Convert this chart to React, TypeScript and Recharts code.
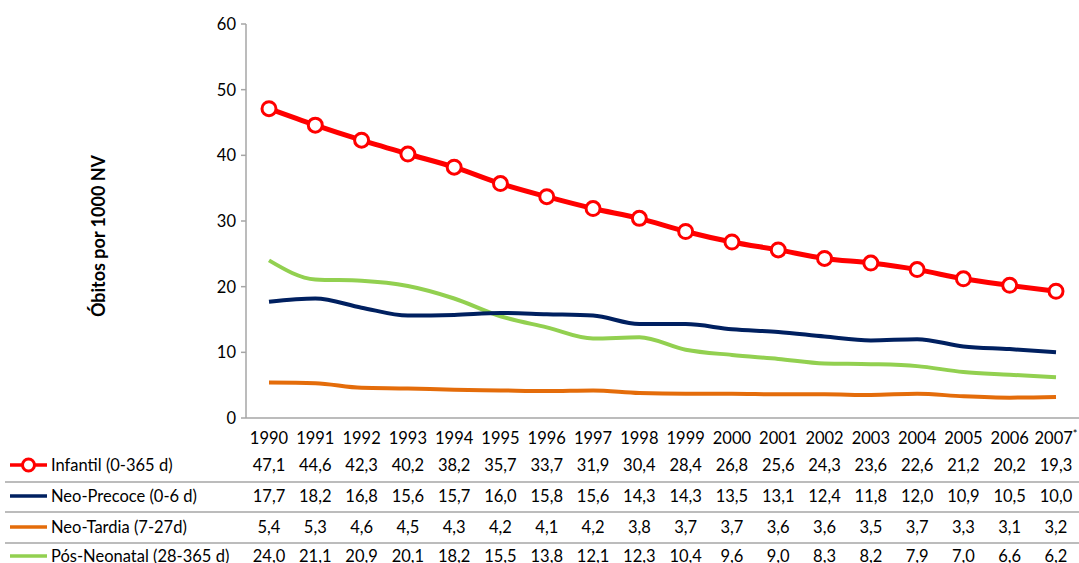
import { LineChart, Line, XAxis, YAxis } from "recharts";

const years = ["1990", "1991", "1992", "1993", "1994", "1995", "1996", "1997", "1998", "1999", "2000", "2001", "2002", "2003", "2004", "2005", "2006", "2007"];
const infantil = [47.1, 44.6, 42.3, 40.2, 38.2, 35.7, 33.7, 31.9, 30.4, 28.4, 26.8, 25.6, 24.3, 23.6, 22.6, 21.2, 20.2, 19.3];
const neoPrecoce = [17.7, 18.2, 16.8, 15.6, 15.7, 16.0, 15.8, 15.6, 14.3, 14.3, 13.5, 13.1, 12.4, 11.8, 12.0, 10.9, 10.5, 10.0];
const neoTardia = [5.4, 5.3, 4.6, 4.5, 4.3, 4.2, 4.1, 4.2, 3.8, 3.7, 3.7, 3.6, 3.6, 3.5, 3.7, 3.3, 3.1, 3.2];
const posNeonatal = [24.0, 21.1, 20.9, 20.1, 18.2, 15.5, 13.8, 12.1, 12.3, 10.4, 9.6, 9.0, 8.3, 8.2, 7.9, 7.0, 6.6, 6.2];
const yTicks = [0, 10, 20, 30, 40, 50, 60];

const FONT = "Lato, 'DejaVu Sans', sans-serif";
const GRID = "#a6a6a6";

const series = [
  { key: "infantil", name: "Infantil (0-365 d)", color: "#ff0000", values: infantil },
  { key: "neoPrecoce", name: "Neo-Precoce  (0-6 d)", color: "#002060", values: neoPrecoce },
  { key: "neoTardia", name: "Neo-Tardia (7-27d)", color: "#e46c0a", values: neoTardia },
  { key: "posNeonatal", name: "Pós-Neonatal (28-365 d)", color: "#92d050", values: posNeonatal },
];

const data = years.map((year, i) => ({
  year,
  infantil: infantil[i],
  neoPrecoce: neoPrecoce[i],
  neoTardia: neoTardia[i],
  posNeonatal: posNeonatal[i],
}));

const fmt = (v: number) => v.toFixed(1).replace(".", ",");

const rowY = [465, 496, 527, 556];

function TableTick(props: any) {
  const { x, y, payload } = props;
  const i = payload.index;
  const isLast = i === years.length - 1;
  return (
    <g fontFamily={FONT} fontSize={16.5} fill="#000">
      <text x={x} y={y + 18} textAnchor="middle" dominantBaseline="central">
        {payload.value}
        {isLast && (
          <tspan fontSize={11} dy={-5}>
            *
          </tspan>
        )}
      </text>
      {series.map((s, r) => (
        <text key={s.key} x={x} y={rowY[r]} textAnchor="middle" dominantBaseline="central">
          {fmt(s.values[i])}
        </text>
      ))}
    </g>
  );
}

function YTitle() {
  return (
    <text
      transform="translate(98,236) rotate(-90)"
      textAnchor="middle"
      dominantBaseline="central"
      fontFamily={FONT}
      fontSize={18}
      fontWeight="bold"
      fill="#000"
    >
      Óbitos por 1000 NV
    </text>
  );
}

export default function App() {
  return (
    <div style={{ position: "absolute", left: 0, top: 0, width: 1079, height: 563, background: "#fff", overflow: "hidden" }}>
      <LineChart width={1079} height={563} data={data} margin={{ top: 24, right: 0, bottom: 0, left: 0 }}>
        <XAxis
          dataKey="year"
          interval={0}
          height={145}
          padding={{ left: 23, right: 23 }}
          tickLine={false}
          tickSize={0}
          axisLine={{ stroke: GRID, strokeWidth: 1.5 }}
          tick={<TableTick />}
        />
        <YAxis
          width={246}
          domain={[0, 60]}
          ticks={yTicks}
          interval={0}
          tickSize={5}
          tickMargin={5}
          axisLine={{ stroke: GRID, strokeWidth: 1.5 }}
          tickLine={{ stroke: GRID, strokeWidth: 1.5 }}
          tick={{ fill: "#000", fontSize: 16.5, fontFamily: FONT }}
          label={<YTitle />}
        />
        <Line
          type="monotone"
          dataKey="neoTardia"
          stroke="#e46c0a"
          strokeWidth={4}
          dot={false}
          isAnimationActive={false}
        />
        <Line
          type="monotone"
          dataKey="posNeonatal"
          stroke="#92d050"
          strokeWidth={4}
          dot={false}
          isAnimationActive={false}
        />
        <Line
          type="monotone"
          dataKey="neoPrecoce"
          stroke="#002060"
          strokeWidth={4}
          dot={false}
          isAnimationActive={false}
        />
        <Line
          type="monotone"
          dataKey="infantil"
          stroke="#ff0000"
          strokeWidth={5}
          dot={{ r: 7, fill: "#fff", stroke: "#ff0000", strokeWidth: 3 }}
          isAnimationActive={false}
        />
      </LineChart>
      <svg width={1079} height={563} style={{ position: "absolute", left: 0, top: 0, pointerEvents: "none" }}>
        {[482, 512, 543].map((y) => (
          <line key={y} x1={5} x2={1079} y1={y} y2={y} stroke={GRID} strokeWidth={1.5} />
        ))}
        {series.map((s, r) => (
          <g key={s.key}>
            <line x1={10} x2={47} y1={rowY[r]} y2={rowY[r]} stroke={s.color} strokeWidth={3.5} />
            {r === 0 && <circle cx={28.5} cy={rowY[r]} r={6} fill="#fff" stroke={s.color} strokeWidth={3} />}
            <text x={51} y={rowY[r]} dominantBaseline="central" fontFamily={FONT} fontSize={16.5} fill="#000">
              {s.name}
            </text>
          </g>
        ))}
      </svg>
    </div>
  );
}
